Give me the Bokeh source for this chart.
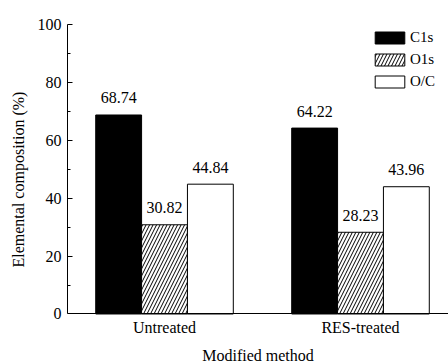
from bokeh.plotting import figure
from bokeh.models import (ColumnDataSource, Range1d, FixedTicker, Legend, LegendItem, Title)
from bokeh.transform import dodge
from bokeh.core.properties import value
from bokeh.embed import file_html
from bokeh.resources import INLINE

# ---- data ----
groups = ["Untreated", "RES-treated"]
group_pos = [1, 2]
c1s = [68.74, 64.22]
o1s = [30.82, 28.23]
oc = [44.84, 43.96]
series_names = ["C1s", "O1s", "O/C"]
y_ticks = [0, 20, 40, 60, 80, 100]
y_minor = [10, 30, 50, 70, 90]

FONT = "Liberation Serif"
BW = 0.234
X0, X1 = 0.505, 2.449
Y0, Y1 = -17.1, 100

src = ColumnDataSource(dict(
    x=group_pos,
    c1s=c1s, o1s=o1s, oc=oc,
    c1s_t=["%.2f" % v for v in c1s],
    o1s_t=["%.2f" % v for v in o1s],
    oc_t=["%.2f" % v for v in oc],
))

p = figure(width=448, height=363, output_backend="svg", toolbar_location=None,
           x_range=Range1d(X0, X1), y_range=Range1d(Y0, Y1),
           min_border_left=66, min_border_right=0, min_border_top=24,
           min_border_bottom=0)
p.outline_line_color = None
p.xgrid.visible = False
p.ygrid.visible = False
p.background_fill_color = "white"
p.border_fill_color = "white"

r1 = p.vbar(x=dodge("x", -BW, range=p.x_range), top="c1s", width=BW, source=src,
            fill_color="black", line_color="black", line_width=1)
r2 = p.vbar(x=dodge("x", 0, range=p.x_range), top="o1s", width=BW, source=src,
            fill_color="white", line_color="black", line_width=1,
            hatch_pattern="/", hatch_color="black", hatch_scale=7, hatch_weight=1)
r3 = p.vbar(x=dodge("x", BW, range=p.x_range), top="oc", width=BW, source=src,
            fill_color="white", line_color="black", line_width=1)

for off, fld in [(-BW, "c1s"), (0, "o1s"), (BW, "oc")]:
    p.text(x=dodge("x", off, range=p.x_range), y=fld, text=fld + "_t", source=src,
           text_align="center", text_baseline="alphabetic", y_offset=-17,
           text_font=value(FONT), text_font_size="16px", text_color="black")

# axes
xa = p.xaxis[0]
xa.fixed_location = 0
xa.ticker = FixedTicker(ticks=group_pos)
xa.major_label_overrides = {g: n for g, n in zip(group_pos, groups)}
xa.major_tick_line_color = None
xa.minor_tick_line_color = None
xa.axis_line_color = "black"
xa.major_label_text_font = FONT
xa.major_label_text_font_size = "16px"
xa.major_label_text_color = "black"
xa.major_label_standoff = -1
xa.axis_label = "Modified method"
xa.axis_label_text_font = FONT
xa.axis_label_text_font_size = "16px"
xa.axis_label_text_font_style = "normal"
xa.axis_label_text_color = "black"
xa.axis_label_standoff = 8

ya = p.yaxis[0]
ya.bounds = (0, 100)
ya.ticker = FixedTicker(ticks=y_ticks, minor_ticks=y_minor)
ya.axis_line_color = "black"
ya.major_tick_line_color = "black"
ya.minor_tick_line_color = "black"
ya.major_tick_in = 5
ya.major_tick_out = 0
ya.minor_tick_in = 3
ya.minor_tick_out = 0
ya.major_label_standoff = 6
ya.major_label_text_font = FONT
ya.major_label_text_font_size = "16px"
ya.major_label_text_color = "black"

ytitle = Title(text="Elemental composition (%)", align="left", offset=96,
               standoff=15, text_font=FONT, text_font_size="16px",
               text_font_style="normal", text_color="black")
p.add_layout(ytitle, "left")

legend = Legend(items=[LegendItem(label=n, renderers=[r]) for n, r in
                       zip(series_names, [r1, r2, r3])],
                location=(304, 273))
legend.glyph_width = 37
legend.glyph_height = 15
legend.label_height = 15
legend.label_standoff = 2
legend.spacing = 5
legend.padding = 0
legend.margin = 0
legend.border_line_color = None
legend.background_fill_alpha = 0
legend.label_text_font = FONT
legend.label_text_font_size = "15px"
legend.label_text_color = "black"
p.add_layout(legend)

open("out.html", "w").write(file_html(p, INLINE))
